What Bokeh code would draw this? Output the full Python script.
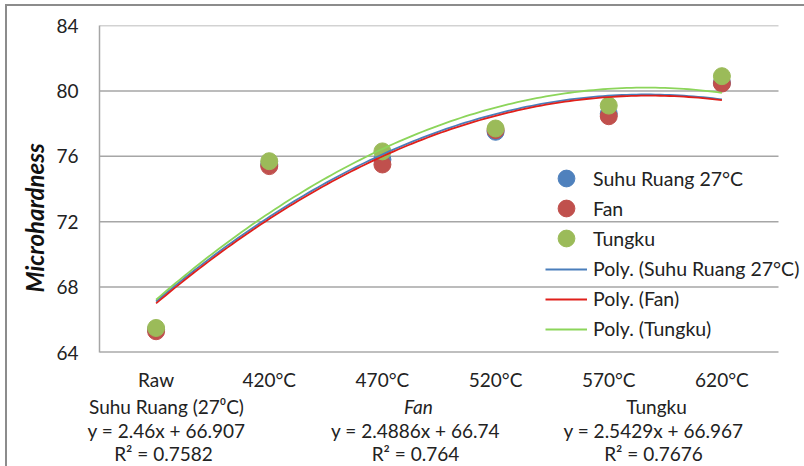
import numpy as np
from bokeh.plotting import figure
from bokeh.layouts import column
from bokeh.models import (Range1d, FixedTicker, Legend, LegendItem, ColumnDataSource)
from bokeh.core.properties import value
from bokeh.embed import file_html
from bokeh.resources import INLINE

categories = ["Raw", "420\u00b0C", "470\u00b0C", "520\u00b0C", "570\u00b0C", "620\u00b0C"]
suhu_ruang = [65.4, 75.5, 75.8, 77.5, 78.6, 80.5]
fan = [65.3, 75.4, 75.5, 77.6, 78.45, 80.45]
tungku = [65.5, 75.7, 76.3, 77.7, 79.1, 80.9]
y_ticks = [64, 68, 72, 76, 80, 84]

series_names = ["Suhu Ruang 27\u00b0C", "Fan", "Tungku"]
marker_colors = ["#4F81BD", "#C0504D", "#9BBB59"]
line_colors = ["#4A7EBB", "#E0201B", "#8CD55A"]

eq_titles = ["Suhu Ruang (27\u2070C)", "Fan", "Tungku"]
eq_lines = ["y = 2.46x + 66.907", "y = 2.4886x + 66.74", "y = 2.5429x + 66.967"]
r2_lines = ["R\u00b2 = 0.7582", "R\u00b2 = 0.764", "R\u00b2 = 0.7676"]

FONT = "Lato"
GRID = "#A6A6A6"
AXIS = "#808080"
TXT = "#222222"
BORDER = "#8C8C8C"

xs = list(range(1, len(categories) + 1))
n = len(categories)

# geometry (pixels)
W = 797            # content width (window 804 minus left margin+border)
TOP_H = 387
BOT_H = 73
FRAME_L = 92       # from left of content
GRID_W = 679       # width of the drawn plot area
FRAME_W = W - FRAME_L
x_end = 0.5 + n * FRAME_W / GRID_W

p = figure(width=W, height=TOP_H, output_backend="svg", toolbar_location=None,
           x_range=Range1d(0.5, x_end), y_range=Range1d(64, 84),
           min_border_left=FRAME_L, min_border_right=0, min_border_top=19,
           min_border_bottom=39)
p.outline_line_color = None
p.background_fill_color = "white"
p.xgrid.grid_line_color = None
p.ygrid.grid_line_color = None

# gridlines and bottom axis line limited to the plot area
p.segment(x0=[0.5] * (len(y_ticks) - 1), x1=[n + 0.5] * (len(y_ticks) - 1),
          y0=y_ticks[1:], y1=y_ticks[1:], line_color=GRID, line_width=1.5)
p.segment(x0=[0.5], x1=[n + 0.5], y0=[y_ticks[0]], y1=[y_ticks[0]],
          line_color=AXIS, line_width=2)

p.yaxis.ticker = FixedTicker(ticks=y_ticks)
p.xaxis.ticker = FixedTicker(ticks=xs)
p.xaxis.major_label_overrides = {x: c for x, c in zip(xs, categories)}
for ax in (p.xaxis, p.yaxis):
    ax.major_tick_line_color = None
    ax.minor_tick_line_color = None
    ax.major_tick_out = 0
    ax.major_tick_in = 0
    ax.minor_tick_out = 0
    ax.minor_tick_in = 0
    ax.major_label_text_font = FONT
    ax.major_label_text_font_size = "19px"
    ax.major_label_text_color = TXT
p.yaxis.axis_line_color = GRID
p.yaxis.axis_line_width = 1.5
p.xaxis.axis_line_color = None
p.yaxis.major_label_standoff = 21
p.xaxis.major_label_standoff = 15
p.yaxis.axis_label = "Microhardness" + "\u00a0" * 11
p.yaxis.axis_label_text_font = FONT
p.yaxis.axis_label_text_font_style = "bold italic"
p.yaxis.axis_label_text_font_size = "24px"
p.yaxis.axis_label_text_color = "#111111"
p.yaxis.axis_label_standoff = 4

data = [suhu_ruang, fan, tungku]
scatter_r = []
for vals, col in zip(data, marker_colors):
    r = p.scatter(xs, vals, size=17, fill_color=col, line_color=col)
    scatter_r.append(r)

xf = np.linspace(1, n, 120)
line_r = []
for vals, col in zip(data, line_colors):
    coef = np.polyfit(xs, vals, 2)
    r = p.line(xf, np.polyval(coef, xf), line_color=col, line_width=1.8)
    line_r.append(r)

legend_style = dict(background_fill_alpha=0, border_line_color=None,
                    label_text_font=FONT, label_text_font_size="19.5px",
                    label_text_color=TXT, glyph_width=42, padding=0, margin=0,
                    label_standoff=6, label_height=20)
# marker entries: one legend each so that the dots keep their full size
for k, (s, r) in enumerate(zip(series_names, scatter_r)):
    lg = Legend(items=[LegendItem(label=s, renderers=[r])], location=(446, 153 - 30 * k),
                glyph_height=42, spacing=0, **legend_style)
    p.add_layout(lg, "center")
line_items = [LegendItem(label="Poly. (" + s + ")", renderers=[r]) for s, r in zip(series_names, line_r)]
p.add_layout(Legend(items=line_items, location=(446, 12), glyph_height=20, spacing=7,
                    **legend_style), "center")

# bottom text block (equations); x in content pixels
p2 = figure(frame_width=W, frame_height=BOT_H, output_backend="svg", toolbar_location=None,
            x_range=Range1d(0, W), y_range=Range1d(BOT_H, 0),
            x_axis_type=None, y_axis_type=None, min_border=0,
            min_border_left=0, min_border_right=0, min_border_top=0, min_border_bottom=0)
p2.outline_line_color = None
p2.xgrid.grid_line_color = None
p2.ygrid.grid_line_color = None
for fig in (p, p2):
    try:
        fig.frame_align = False
    except Exception:
        pass

col_centers = [[159, 411, 649], [159, 408, 646], [156, 408, 646]]
row_y = [13, 37, 60]
tx, ty, tt, ts = [], [], [], []
for r, texts in enumerate([eq_titles, eq_lines, r2_lines]):
    for i, t in enumerate(texts):
        tx.append(col_centers[r][i])
        ty.append(row_y[r])
        tt.append(t)
        ts.append("italic" if (r == 0 and i == 1) else "normal")
src = ColumnDataSource(dict(x=tx, y=ty, text=tt, style=ts))
p2.text(x="x", y="y", text="text", source=src, text_font=value(FONT),
        text_font_size="19px", text_font_style="style", text_color=TXT,
        text_align="center", text_baseline="middle")

layout = column(p, p2, spacing=0)
layout.margin = (4, 0, 0, 5)
layout.styles = {"border-left": "2px solid " + BORDER, "border-top": "2px solid " + BORDER}

open("out.html", "w").write(file_html(layout, INLINE))
